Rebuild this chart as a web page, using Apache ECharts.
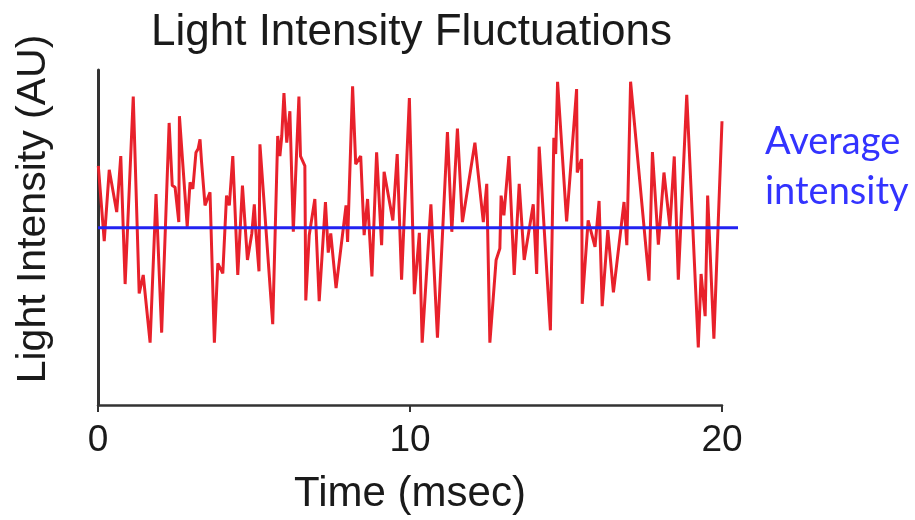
<!DOCTYPE html>
<html>
<head>
<meta charset="utf-8">
<script src="https://cdn.jsdelivr.net/npm/echarts@6/dist/echarts.min.js"></script>
<style>
  html, body { margin: 0; padding: 0; background: #ffffff; }
  #chart { width: 915px; height: 520px; }
</style>
</head>
<body>
<div id="chart"></div>
<script>
// Sampled time points (msec) and measured light intensity (AU, 0-100 scale)
const timeMs = [
  0.01, 0.20, 0.36, 0.60, 0.73, 0.87, 1.13, 1.32, 1.45, 1.67,
  1.86, 2.04, 2.28, 2.38, 2.47, 2.59, 2.61, 2.86, 2.95, 3.04,
  3.14, 3.21, 3.27, 3.32, 3.43, 3.59, 3.73, 3.84, 4.00, 4.12,
  4.21, 4.32, 4.48, 4.63, 4.79, 4.93, 5.01, 5.06, 5.16, 5.19,
  5.30, 5.60, 5.76, 5.83, 5.89, 5.96, 6.05, 6.15, 6.26, 6.44,
  6.49, 6.63, 6.66, 6.77, 6.95, 7.09, 7.29, 7.38, 7.46, 7.63,
  7.95, 8.00, 8.16, 8.26, 8.42, 8.53, 8.64, 8.78, 8.93, 9.09,
  9.17, 9.45, 9.59, 9.73, 9.98, 10.14, 10.30, 10.39, 10.67, 10.88,
  11.20, 11.34, 11.52, 11.68, 12.08, 12.35, 12.46, 12.56, 12.76, 12.88,
  12.92, 13.01, 13.17, 13.34, 13.50, 13.66, 13.95, 14.06, 14.14, 14.50,
  14.61, 14.67, 14.73, 15.02, 15.34, 15.36, 15.50, 15.52, 15.71, 15.93,
  16.06, 16.16, 16.34, 16.52, 16.86, 16.95, 17.07, 17.66, 17.77, 17.96,
  18.14, 18.33, 18.47, 18.60, 18.87, 19.24, 19.33, 19.46, 19.54, 19.74,
  20.00
];
const intensity = [
  71.4, 48.9, 70.2, 57.6, 74.3, 36.1, 92.1, 33.3, 38.8, 18.6,
  63.0, 21.6, 84.2, 65.5, 65.0, 54.6, 86.2, 53.2, 66.5, 64.5,
  75.4, 76.5, 79.3, 72.4, 59.6, 63.5, 18.6, 42.3, 39.3, 62.5,
  59.6, 74.3, 38.8, 65.5, 43.3, 51.2, 59.9, 51.7, 39.9, 77.8,
  63.5, 24.1, 80.3, 74.3, 80.3, 93.1, 78.3, 87.7, 51.7, 92.1,
  74.3, 71.4, 31.2, 50.7, 61.5, 31.0, 60.6, 45.5, 51.2, 34.9,
  59.6, 48.7, 95.1, 71.9, 74.3, 50.7, 61.5, 38.4, 75.4, 47.7,
  69.6, 55.1, 74.9, 37.4, 91.6, 33.1, 51.4, 18.6, 59.9, 20.1,
  81.5, 51.7, 82.5, 54.6, 78.3, 54.6, 66.0, 18.6, 43.3, 46.7,
  62.5, 56.6, 74.3, 38.8, 66.0, 43.3, 59.9, 39.1, 77.1, 22.3,
  79.8, 74.9, 96.5, 54.8, 94.3, 69.4, 73.4, 30.2, 55.1, 47.2,
  60.9, 29.5, 52.2, 33.6, 60.6, 47.7, 96.5, 37.1, 75.5, 47.9,
  69.4, 53.2, 74.2, 37.4, 92.6, 17.2, 39.1, 26.5, 62.5, 19.8,
  84.7
];

// Average intensity level and the time span its guide line covers
const averageLevel = 53.3;
const averageSpan = [0, 20.5];

// Axis ticks on the time axis
const timeTicks = [0, 10, 20];

const intensitySeries = timeMs.map((t, i) => [t, intensity[i]]);
const averageSeries = averageSpan.map(t => [t, averageLevel]);

const chart = echarts.init(document.getElementById('chart'), null, { renderer: 'canvas' });

const labelFont = '"Liberation Sans", Arial, Helvetica, sans-serif';

chart.setOption({
  animation: false,
  backgroundColor: '#ffffff',
  title: {
    text: 'Light Intensity Fluctuations',
    left: 146,
    top: 6,
    textStyle: {
      fontFamily: labelFont,
      fontSize: 44,
      fontWeight: 'normal',
      color: '#1a1a1a'
    }
  },
  grid: [
    { left: 98, right: 193, top: 70, bottom: 112 },
    { left: 98, right: 177, top: 70, bottom: 112 }
  ],
  xAxis: [
    {
      type: 'value',
      gridIndex: 0,
      min: timeTicks[0],
      max: timeTicks[timeTicks.length - 1],
      interval: timeTicks[1] - timeTicks[0],
      name: 'Time (msec)',
      nameLocation: 'middle',
      nameGap: 68,
      nameTextStyle: {
        fontFamily: labelFont,
        fontSize: 42,
        color: '#1a1a1a'
      },
      axisLine: { lineStyle: { color: '#333333', width: 2.5 } },
      axisTick: { show: true, length: 7, lineStyle: { color: '#333333', width: 2 } },
      axisLabel: {
        margin: 17,
        fontFamily: labelFont,
        fontSize: 37,
        color: '#1a1a1a'
      },
      splitLine: { show: false }
    },
    {
      type: 'value',
      gridIndex: 1,
      min: averageSpan[0],
      max: averageSpan[1],
      show: false
    }
  ],
  yAxis: [
    {
      type: 'value',
      gridIndex: 0,
      min: 0,
      max: 100,
      axisLine: { show: true, lineStyle: { color: '#333333', width: 3 } },
      axisTick: { show: false },
      axisLabel: { show: false },
      splitLine: { show: false }
    },
    {
      type: 'value',
      gridIndex: 1,
      min: 0,
      max: 100,
      show: false
    }
  ],
  graphic: [
    {
      type: 'text',
      x: 34,
      y: 209,
      rotation: Math.PI / 2,
      style: {
        text: 'Light Intensity (AU)',
        fontFamily: labelFont,
        fontSize: 41,
        fill: '#1a1a1a',
        align: 'center',
        verticalAlign: 'middle'
      }
    },
    {
      type: 'text',
      x: 765,
      y: 117,
      style: {
        text: 'Average\nintensity',
        fontFamily: 'Lato, "Open Sans", sans-serif',
        fontSize: 38,
        lineHeight: 50,
        fill: '#3333ff',
        align: 'left',
        verticalAlign: 'top'
      }
    }
  ],
  series: [
    {
      type: 'line',
      xAxisIndex: 0,
      yAxisIndex: 0,
      data: intensitySeries,
      symbol: 'none',
      lineStyle: { color: '#e8212b', width: 3 },
      z: 2
    },
    {
      type: 'line',
      xAxisIndex: 1,
      yAxisIndex: 1,
      data: averageSeries,
      symbol: 'none',
      lineStyle: { color: '#2222f2', width: 3 },
      z: 3
    }
  ]
});
</script>
</body>
</html>
